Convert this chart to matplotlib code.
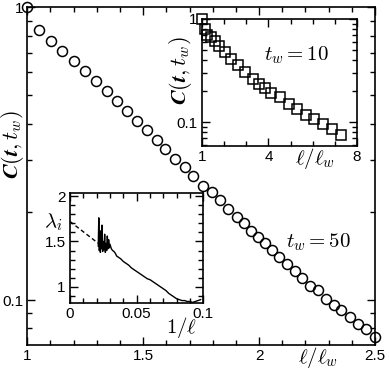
import numpy as np
import matplotlib
matplotlib.use("Agg")
import matplotlib.pyplot as plt
from matplotlib.ticker import FixedLocator, FixedFormatter, MultipleLocator, LogLocator, NullFormatter

# ---- main panel: C(t, t_w) vs l/l_w, t_w = 50 ----
main_x = [1.000, 1.052, 1.102, 1.151, 1.200, 1.250, 1.297, 1.342, 1.385, 1.428,
          1.472, 1.515, 1.558, 1.594, 1.637, 1.680, 1.716, 1.759, 1.795, 1.831,
          1.866, 1.903, 1.934, 1.967, 1.996, 2.025, 2.056, 2.086, 2.121, 2.154,
          2.185, 2.219, 2.254, 2.288, 2.322, 2.355, 2.391, 2.427, 2.463, 2.499]
main_c = [1.000, 0.834, 0.767, 0.707, 0.654, 0.604, 0.559, 0.518, 0.479, 0.442,
          0.410, 0.382, 0.353, 0.329, 0.304, 0.285, 0.265, 0.246, 0.234, 0.219,
          0.205, 0.192, 0.183, 0.172, 0.164, 0.156, 0.148, 0.140, 0.133, 0.126,
          0.119, 0.112, 0.108, 0.101, 0.0959, 0.0922, 0.0874, 0.0830, 0.0798, 0.0747]

# ---- top inset: t_w = 10 ----
ins1_x = [1.00, 1.14, 1.23, 1.41, 1.59, 1.77, 2.04, 2.31, 2.63, 2.95, 3.31,
          3.58, 3.85, 4.12, 4.53, 4.94, 5.30, 5.71, 6.07, 6.48, 6.88, 7.29]
ins1_c = [1.000, 0.801, 0.702, 0.671, 0.614, 0.550, 0.482, 0.412, 0.361, 0.309, 0.265,
          0.237, 0.217, 0.194, 0.174, 0.152, 0.136, 0.119, 0.107, 0.0957, 0.0857, 0.0750]

# ---- bottom inset: lambda vs 1/l ----
lam_x = [0.0212, 0.0216, 0.0220, 0.0224, 0.0228, 0.0232, 0.0236, 0.0240, 0.0245, 0.0250,
         0.0255, 0.0260, 0.0265, 0.0270, 0.0275, 0.0280, 0.0285, 0.0290, 0.0295, 0.0300,
         0.0310, 0.0320, 0.0330, 0.0340, 0.0350, 0.0360, 0.0380, 0.0400, 0.0420, 0.0440,
         0.0460, 0.0480, 0.0500, 0.0520, 0.0540, 0.0560, 0.0580, 0.0600, 0.0620, 0.0640,
         0.0660, 0.0680, 0.0700, 0.0720, 0.0740, 0.0760, 0.0780, 0.0800, 0.0820, 0.0840,
         0.0860, 0.0880, 0.0900, 0.0920, 0.0940, 0.0960, 0.0980]
lam_y = [1.45, 1.76, 1.40, 1.62, 1.38, 1.55, 1.42, 1.68, 1.39, 1.50,
         1.41, 1.58, 1.38, 1.48, 1.40, 1.56, 1.42, 1.52, 1.43, 1.47,
         1.42, 1.40, 1.39, 1.37, 1.34, 1.33, 1.31, 1.28, 1.26, 1.24,
         1.21, 1.19, 1.17, 1.15, 1.13, 1.11, 1.09, 1.08, 1.06, 1.04,
         1.02, 1.00, 0.98, 0.96, 0.93, 0.91, 0.89, 0.87, 0.86, 0.85,
         0.85, 0.84, 0.84, 0.83, 0.84, 0.85, 0.86]
lam_fit_x = [0.0, 0.0212]
lam_fit_y = [1.72, 1.48]

W, H = 389, 372


def px_box(left, top, right, bottom):
    """axes rect from pixel edges of the 389x372 picture"""
    return [left / W, 1 - bottom / H, (right - left) / W, (bottom - top) / H]


def style_ticks(ax, major=6, minor=3.5):
    ax.tick_params(which='both', direction='in', top=True, right=True, width=1.0)
    ax.tick_params(which='major', length=major, pad=3)
    ax.tick_params(which='minor', length=minor)
    for sp in ax.spines.values():
        sp.set_linewidth(1.2)


def main():
    plt.rcParams['font.family'] = ['Liberation Sans', 'DejaVu Sans']
    plt.rcParams['mathtext.fontset'] = 'cm'
    plt.rcParams['font.size'] = 11

    fig = plt.figure(figsize=(W / 100, H / 100), dpi=100)

    # main axes
    ax = fig.add_axes(px_box(27.3, 7.3, 375, 345))
    ax.plot(main_x, main_c, 'o', ms=7.2, mfc='none', mec='black', mew=1.1, clip_on=False, zorder=3)
    ax.set_yscale('log')
    ax.set_xlim(1, 2.5)
    ax.set_ylim(0.0702, 1)
    ax.xaxis.set_major_locator(FixedLocator([1, 1.5, 2, 2.5]))
    ax.xaxis.set_major_formatter(FixedFormatter(['1', '1.5', '2', '2.5']))
    ax.xaxis.set_minor_locator(MultipleLocator(0.1))
    ax.yaxis.set_major_locator(FixedLocator([0.1, 1]))
    ax.yaxis.set_major_formatter(FixedFormatter(['0.1', '1']))
    ax.yaxis.set_minor_locator(LogLocator(subs=np.arange(2, 10)))
    ax.yaxis.set_minor_formatter(NullFormatter())
    style_ticks(ax)

    # labels are bold italic math in the original
    fig.text(13 / W, 1 - 145 / H, r'$\boldsymbol{C(t,t_w)}$', rotation=90, fontsize=16, ha='center', va='center')
    fig.text(318 / W, 1 - 357 / H, r'$\boldsymbol{\ell/\ell_w}$', fontsize=15, ha='center', va='center')
    fig.text(318 / W, 1 - 242 / H, r'$\boldsymbol{t_w=50}$', fontsize=15, ha='center', va='center')

    # top inset
    ax1 = fig.add_axes(px_box(202, 19, 357, 146))
    ax1.plot(ins1_x, ins1_c, 's', ms=6.5, mfc='none', mec='black', mew=1.1, clip_on=False, zorder=3)
    ax1.set_yscale('log')
    ax1.set_xlim(1, 8)
    ax1.set_ylim(0.059, 1)
    ax1.xaxis.set_major_locator(FixedLocator([1, 4, 8]))
    ax1.xaxis.set_major_formatter(FixedFormatter(['1', '4', '8']))
    ax1.xaxis.set_minor_locator(FixedLocator([2, 3, 5, 6, 7]))
    ax1.yaxis.set_major_locator(FixedLocator([0.1, 1]))
    ax1.yaxis.set_major_formatter(FixedFormatter(['0.1', '1']))
    ax1.yaxis.set_minor_locator(LogLocator(subs=np.arange(2, 10)))
    ax1.yaxis.set_minor_formatter(NullFormatter())
    style_ticks(ax1)

    fig.text(180 / W, 1 - 71 / H, r'$\boldsymbol{C(t,t_w)}$', rotation=90, fontsize=16, ha='center', va='center')
    fig.text(315 / W, 1 - 158 / H, r'$\boldsymbol{\ell/\ell_w}$', fontsize=15, ha='center', va='center')
    fig.text(296 / W, 1 - 55 / H, r'$\boldsymbol{t_w=10}$', fontsize=15, ha='center', va='center')

    # bottom inset
    ax2 = fig.add_axes(px_box(70, 193.3, 203.3, 303.3))
    ax2.plot(lam_x, lam_y, '-', color='black', lw=1.0)
    ax2.plot(lam_fit_x, lam_fit_y, '--', color='black', lw=1.0, dashes=(3, 2))
    ax2.set_xlim(0, 0.1)
    ax2.set_ylim(0.82, 2.03)
    ax2.xaxis.set_major_locator(FixedLocator([0, 0.05, 0.1]))
    ax2.xaxis.set_major_formatter(FixedFormatter(['0', '0.05', '0.1']))
    ax2.xaxis.set_minor_locator(MultipleLocator(0.01))
    ax2.yaxis.set_major_locator(FixedLocator([1, 1.5, 2]))
    ax2.yaxis.set_major_formatter(FixedFormatter(['1', '1.5', '2']))
    ax2.yaxis.set_minor_locator(MultipleLocator(0.1))
    style_ticks(ax2)

    fig.text(53 / W, 1 - 222 / H, r'$\boldsymbol{\lambda_i}$', fontsize=15, ha='center', va='center')
    fig.text(182 / W, 1 - 328 / H, r'$\boldsymbol{1/\ell}$', fontsize=15, ha='center', va='center')

    fig.savefig('out.png', dpi=100)
    plt.close(fig)


if __name__ == "__main__":
    main()
